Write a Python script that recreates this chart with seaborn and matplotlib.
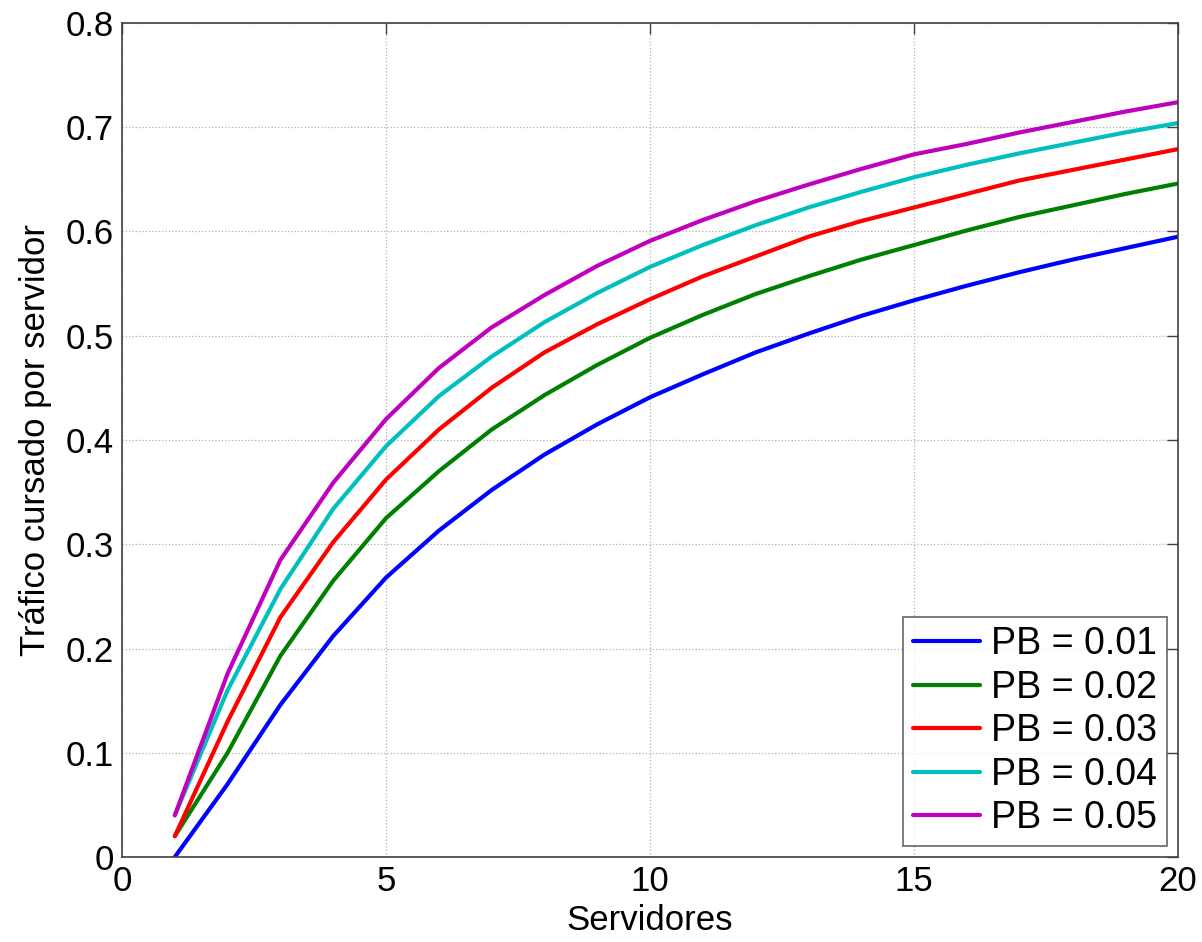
import numpy as np
import pandas as pd
import matplotlib
matplotlib.use('Agg')
import matplotlib.pyplot as plt
import seaborn as sns

sns.set_style("white")
plt.rcParams['font.family'] = ['Liberation Sans', 'DejaVu Sans']
plt.rcParams['text.color'] = 'black'
plt.rcParams['axes.labelcolor'] = 'black'
plt.rcParams['xtick.labelcolor'] = 'black'
plt.rcParams['ytick.labelcolor'] = 'black'

servidores = list(range(1, 21))
pb_labels = ['PB = 0.01', 'PB = 0.02', 'PB = 0.03', 'PB = 0.04', 'PB = 0.05']
pb_001 = [0.000, 0.070, 0.146, 0.212, 0.268, 0.313, 0.352, 0.386, 0.415, 0.441,
          0.463, 0.484, 0.502, 0.519, 0.534, 0.548, 0.561, 0.573, 0.584, 0.595]
pb_002 = [0.020, 0.100, 0.193, 0.265, 0.325, 0.370, 0.410, 0.443, 0.472, 0.498,
          0.520, 0.540, 0.557, 0.573, 0.587, 0.601, 0.614, 0.625, 0.636, 0.646]
pb_003 = [0.020, 0.130, 0.230, 0.302, 0.362, 0.410, 0.450, 0.484, 0.511, 0.535,
          0.557, 0.576, 0.595, 0.610, 0.623, 0.636, 0.649, 0.659, 0.669, 0.679]
pb_004 = [0.040, 0.160, 0.257, 0.334, 0.394, 0.442, 0.480, 0.513, 0.541, 0.566,
          0.587, 0.606, 0.623, 0.638, 0.652, 0.664, 0.675, 0.685, 0.695, 0.704]
pb_005 = [0.040, 0.176, 0.285, 0.359, 0.420, 0.469, 0.508, 0.539, 0.567, 0.591,
          0.611, 0.629, 0.645, 0.660, 0.674, 0.684, 0.695, 0.705, 0.715, 0.724]
colors = ['#0000ff', '#008000', '#ff0000', '#00bfbf', '#bf00bf']

df = pd.concat([
    pd.DataFrame({'Servidores': servidores, 'trafico': vals, 'PB': lab})
    for vals, lab in zip([pb_001, pb_002, pb_003, pb_004, pb_005], pb_labels)
])

fig = plt.figure(figsize=(12.02, 9.42), dpi=100)
ax = fig.add_axes([0.1015, 0.0902, 0.8785, 0.8854])
sns.lineplot(data=df, x='Servidores', y='trafico', hue='PB', palette=colors,
             linewidth=3, ax=ax)

ax.set_xlim(0, 20)
ax.set_ylim(0, 0.8)
ax.set_xticks([0, 5, 10, 15, 20])
ax.set_yticks(np.arange(0, 0.81, 0.1))
ax.set_yticklabels(['0', '0.1', '0.2', '0.3', '0.4', '0.5', '0.6', '0.7', '0.8'])
ax.grid(True, linestyle=':', color='#b0b0b0', linewidth=0.9)
ax.tick_params(direction='in', length=8, width=1, color='#404040',
               labelsize=25, top=True, right=True, pad=6)
for s in ax.spines.values():
    s.set_color('#404040')
    s.set_linewidth(1.2)
ax.set_xlabel('Servidores', fontsize=25, labelpad=4)
ax.set_ylabel('Tráfico cursado por servidor', fontsize=25, labelpad=10)

leg = ax.legend(loc='lower right', fontsize=27, frameon=True, fancybox=False,
                handlelength=1.8, handletextpad=0.3, borderpad=0.25,
                labelspacing=0.2, borderaxespad=0.3)
leg.get_frame().set_edgecolor('#404040')
leg.get_frame().set_linewidth(1.2)

plt.savefig('out.png', dpi=100)
